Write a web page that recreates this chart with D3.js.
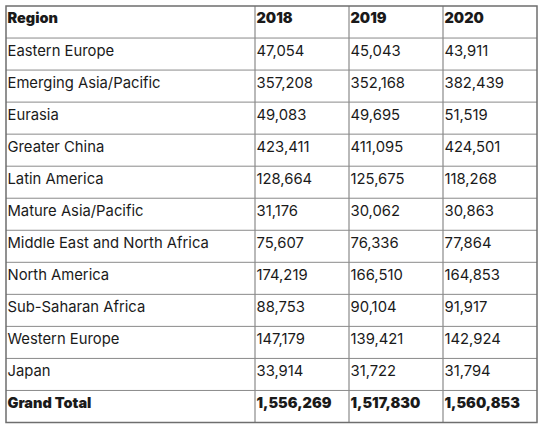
<!DOCTYPE html>
<html><head><meta charset="utf-8">
<script src="https://cdn.jsdelivr.net/npm/d3@7"></script>
<style>body{margin:0;background:#fff;} svg{display:block}</style>
</head><body>
<script>
const columns = ["Region", "2018", "2019", "2020"];
const regions = ["Eastern Europe","Emerging Asia/Pacific","Eurasia","Greater China","Latin America","Mature Asia/Pacific","Middle East and North Africa","North America","Sub-Saharan Africa","Western Europe","Japan"];
const v2018 = ["47,054","357,208","49,083","423,411","128,664","31,176","75,607","174,219","88,753","147,179","33,914"];
const v2019 = ["45,043","352,168","49,695","411,095","125,675","30,062","76,336","166,510","90,104","139,421","31,722"];
const v2020 = ["43,911","382,439","51,519","424,501","118,268","30,863","77,864","164,853","91,917","142,924","31,794"];
const totalLabel = "Grand Total";
const totals = ["1,556,269","1,517,830","1,560,853"];

const W = 542, H = 429;
const svg = d3.select("body").append("svg").attr("width", W).attr("height", H);
const rows = [columns].concat(regions.map((r,i)=>[r, v2018[i], v2019[i], v2020[i]])).concat([[totalLabel].concat(totals)]);
const bold = new Set([0, rows.length-1]);
const colEdges = [6, 255, 349, 443, 537];
const y = d3.scaleLinear().domain([0, rows.length]).range([6, 422.5]);

const g = svg.append("g");
for (let i=1;i<rows.length;i++) g.append("line").attr("x1",colEdges[0]).attr("x2",colEdges[4]).attr("y1",y(i)).attr("y2",y(i)).attr("stroke","#8a8a8a").attr("stroke-width",1);
for (let j=1;j<4;j++) g.append("line").attr("x1",colEdges[j]).attr("x2",colEdges[j]).attr("y1",y(0)).attr("y2",y(rows.length)).attr("stroke","#8a8a8a").attr("stroke-width",1.2);
g.append("rect").attr("x",colEdges[0]).attr("y",y(0)).attr("width",colEdges[4]-colEdges[0]).attr("height",y(rows.length)-y(0)).attr("fill","none").attr("stroke","#6e6e6e").attr("stroke-width",1.5);

rows.forEach((r,i)=>{
  r.forEach((t,j)=>{
    svg.append("text").attr("x",colEdges[j]+1.5).attr("y",y(i)+13.5)
      .attr("font-family","Inter, 'Open Sans', sans-serif")
      .attr("font-size",bold.has(i)?14.5:14.8)
      .attr("font-weight",bold.has(i)?900:400)
      .attr("fill","#1a1a1a")
      .attr("dominant-baseline","middle")
      .text(t);
  });
});
</script>
</body></html>
